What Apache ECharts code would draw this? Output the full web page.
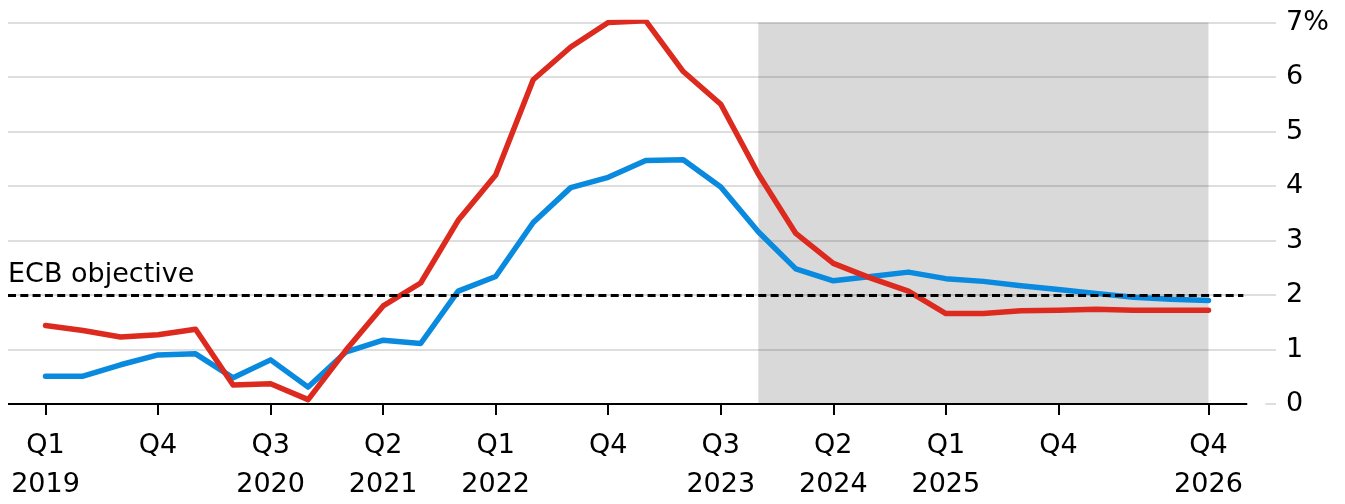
<!DOCTYPE html>
<html>
<head>
<meta charset="utf-8">
<script src="https://cdn.jsdelivr.net/npm/echarts@6/dist/echarts.min.js"></script>
<style>
  html, body { margin: 0; padding: 0; background: #fff; }
  #chart { width: 1345px; height: 504px; }
</style>
</head>
<body>
<div id="chart"></div>
<script>
// 분기 (x축)
var quarters = [
  '2019 Q1', '2019 Q2', '2019 Q3', '2019 Q4',
  '2020 Q1', '2020 Q2', '2020 Q3', '2020 Q4',
  '2021 Q1', '2021 Q2', '2021 Q3', '2021 Q4',
  '2022 Q1', '2022 Q2', '2022 Q3', '2022 Q4',
  '2023 Q1', '2023 Q2', '2023 Q3', '2023 Q4',
  '2024 Q1', '2024 Q2', '2024 Q3', '2024 Q4',
  '2025 Q1', '2025 Q2', '2025 Q3', '2025 Q4',
  '2026 Q1', '2026 Q2', '2026 Q3', '2026 Q4'
];

// 파란 선
var blueValues = [0.51, 0.51, 0.72, 0.90, 0.92, 0.48, 0.81, 0.31, 0.95, 1.17,
  1.11, 2.07, 2.34, 3.33, 3.97, 4.16, 4.47, 4.48, 3.98, 3.16,
  2.48, 2.26, 2.34, 2.42, 2.30, 2.25, 2.17, 2.10, 2.03, 1.96, 1.92, 1.90];

// 빨간 선
var redValues = [1.44, 1.35, 1.23, 1.27, 1.37, 0.35, 0.37, 0.08, 0.98, 1.80,
  2.22, 3.37, 4.20, 5.95, 6.55, 7.00, 7.03, 6.10, 5.50, 4.22,
  3.13, 2.58, 2.31, 2.07, 1.66, 1.66, 1.71, 1.72, 1.74, 1.72, 1.72, 1.72];

// x축 눈금
var tickQuarters = ['2019 Q1', '2019 Q4', '2020 Q3', '2021 Q2', '2022 Q1', '2022 Q4',
  '2023 Q3', '2024 Q2', '2025 Q1', '2025 Q4', '2026 Q4'];
var tickLabels = ['Q1\n2019', 'Q4', 'Q3\n2020', 'Q2\n2021', 'Q1\n2022', 'Q4',
  'Q3\n2023', 'Q2\n2024', 'Q1\n2025', 'Q4', 'Q4\n2026'];

// 전망 구간 (음영)
var forecastStart = '2023 Q4';
var forecastEnd = '2026 Q4';
var ecbTarget = 2;

var FONT = "'DejaVu Sans', sans-serif";
var FSIZE = 27;

var tickIdx = tickQuarters.map(function (q) { return quarters.indexOf(q); });
var idx = function (q) { return quarters.indexOf(q); };

var chart = echarts.init(document.getElementById('chart'));

var option = {
  animation: false,
  grid: { left: 8, right: 69, top: 22.5, bottom: 97 },
  xAxis: {
    type: 'value',
    min: -1,
    max: 32.8,
    splitLine: { show: false },
    axisLine: { show: false },
    axisTick: {
      show: true,
      customValues: tickIdx,
      length: 11,
      lineStyle: { color: '#000', width: 2 }
    },
    axisLabel: {
      customValues: tickIdx,
      margin: 22,
      fontFamily: FONT,
      fontSize: FSIZE,
      lineHeight: 39,
      color: '#000',
      formatter: function (v) {
        var k = tickIdx.indexOf(Math.round(v));
        return k >= 0 ? tickLabels[k] : '';
      }
    }
  },
  yAxis: {
    type: 'value',
    position: 'right',
    min: 0,
    max: 7,
    interval: 1,
    axisLine: { show: false },
    axisTick: { show: false },
    splitLine: { lineStyle: { color: '#dedede', width: 2 } },
    axisLabel: {
      margin: 10,
      align: 'left',
      fontFamily: FONT,
      fontSize: FSIZE,
      color: '#000',
      formatter: function (v) { return v === 7 ? '7%' : String(v); }
    }
  },
  series: [
    {
      // 음영
      type: 'line',
      data: [],
      z: 1,
      silent: true,
      markArea: {
        silent: true,
        itemStyle: { color: 'rgba(0,0,0,0.15)' },
        data: [[{ coord: [idx(forecastStart), 0] }, { coord: [idx(forecastEnd), 7] }]]
      }
    },
    {
      name: 'blue',
      type: 'line',
      z: 3,
      showSymbol: false,
      lineStyle: { color: '#0a8ade', width: 5.5, cap: 'round', join: 'round' },
      data: blueValues.map(function (v, i) { return [i, v]; })
    },
    {
      name: 'red',
      type: 'line',
      z: 4,
      showSymbol: false,
      lineStyle: { color: '#dd2a1f', width: 5.5, cap: 'round', join: 'round' },
      data: redValues.map(function (v, i) { return [i, v]; })
    },
    {
      // 기준선
      type: 'line',
      data: [],
      z: 5,
      silent: true,
      markLine: {
        silent: true,
        symbol: ['none', 'none'],
        animation: false,
        data: [
          [
            { coord: [-1, ecbTarget], lineStyle: { color: '#000', width: 3, type: [8, 4.3] },
              label: { show: true, position: 'insideStartTop', formatter: 'ECB objective',
                fontFamily: FONT, fontSize: FSIZE, color: '#000', distance: [0, 7] } },
            { coord: [31.93, ecbTarget] }
          ],
          [
            { coord: [-1, 0], lineStyle: { color: '#000', width: 2, type: 'solid' }, label: { show: false } },
            { coord: [32.04, 0] }
          ],
          [
            { coord: [32.04, 0], lineStyle: { color: '#fff', width: 3, type: 'solid' }, label: { show: false } },
            { coord: [32.52, 0] }
          ]
        ]
      }
    }
  ]
};

chart.setOption(option);
</script>
</body>
</html>
